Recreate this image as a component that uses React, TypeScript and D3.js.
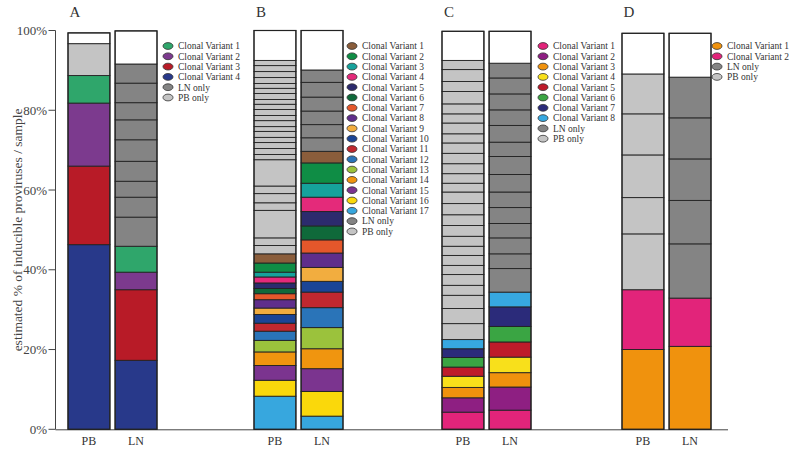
import React from "react";
import * as d3 from "d3";

// ---------- data ----------
const PANELS = ["A", "B", "C", "D"];
const SAMPLES = ["PB", "LN"];
const Y_TICKS = [0, 20, 40, 60, 80, 100];

const LN_ONLY_COLOR = "#848484";
const PB_ONLY_COLOR = "#c4c4c4";

// Panel A (variants listed CV1..CV4; stacked bottom-up in reverse order)
const A_VARIANT_COLORS = ["#2fa66b", "#7c3a8e", "#b81b27", "#28398a"];
const A_PB_VARIANTS = [6.9, 15.8, 19.7, 46.3];
const A_LN_VARIANTS = [6.5, 4.4, 17.7, 17.3];
const A_PB_ONLY = [8.0];
const A_LN_ONLY = [7.3, 5.0, 4.0, 5.0, 5.4, 5.0, 4.3, 4.9, 4.8];
const A_TOTALS = [99.4, 99.9];

// Panel B (CV1..CV17; stacked bottom-up in reverse order)
const B_VARIANT_COLORS = [
  "#8a5d3b", "#0f8d45", "#16a29c", "#e42a7a", "#2c2b6d", "#0f693a",
  "#e4572b", "#5f2e8b", "#f2ad3f", "#1b4596", "#c0282f", "#2a74b8",
  "#9bc23c", "#f0950f", "#7b348f", "#fad80b", "#37a7de",
];
const B_PB_VARIANTS = [2.3, 2.3, 1.2, 1.5, 1.4, 1.3, 1.5, 2.1, 1.6, 2.2, 2.0, 2.3, 2.9, 3.4, 3.7, 4.0, 8.3];
const B_LN_VARIANTS = [2.9, 5.1, 3.5, 3.6, 3.6, 3.5, 3.3, 3.6, 3.5, 2.7, 3.9, 5.0, 5.3, 5.0, 5.7, 6.2, 3.3];
const B_PB_ONLY = [
  2.1, 1.9, 6.9, 1.9, 2.3, 1.9, 6.6, 1.3, 1.5, 1.5, 1.3, 1.5, 1.2,
  1.5, 1.3, 1.5, 1.3, 1.2, 1.5, 1.3, 1.2, 1.5, 1.5, 1.5, 1.3,
];
const B_LN_ONLY = [3.4, 3.3, 3.4, 3.5, 3.7, 3.1];
const B_TOTALS = [100, 100];

// Panel C (CV1..CV8; stacked bottom-up in listed order)
const C_VARIANT_COLORS = ["#e2247a", "#8e1f82", "#f0920d", "#f8e01b", "#be1b2a", "#3aa543", "#2b2b7a", "#37a8e0"];
const C_PB_VARIANTS = [4.3, 3.6, 2.6, 2.8, 2.3, 2.4, 2.2, 2.3];
const C_LN_VARIANTS = [4.8, 5.8, 3.6, 3.9, 3.8, 3.9, 4.9, 3.7];
const C_PB_ONLY = [
  4.0, 3.8, 3.3, 2.5, 2.7, 2.3, 2.5, 2.3, 2.5, 2.7, 2.7, 2.8, 2.9,
  2.2, 2.4, 2.5, 2.6, 2.6, 2.3, 2.7, 2.3, 2.5, 3.1, 2.5, 3.0, 2.3,
];
const C_LN_ONLY = [5.9, 3.7, 4.0, 3.6, 4.0, 3.9, 4.4, 4.5, 3.6, 4.2, 3.9, 4.0, 4.0, 3.7];
const C_TOTALS = [99.8, 99.8];

// Panel D (CV1..CV2; stacked bottom-up in listed order)
const D_VARIANT_COLORS = ["#f0920d", "#e2247a"];
const D_PB_VARIANTS = [20.0, 15.0];
const D_LN_VARIANTS = [20.8, 12.1];
const D_PB_ONLY = [14.0, 9.1, 10.7, 10.3, 10.0];
const D_LN_ONLY = [13.6, 10.9, 10.4, 10.3, 10.2];
const D_TOTALS = [99.3, 99.3];

// ---------- layout ----------
const W = 795;
const H = 449;
const FONT = "'Liberation Serif', 'Times New Roman', serif";

type Seg = { y0: number; y1: number; color: string };

function buildStack(
  variants: number[],
  colors: string[],
  only: number[],
  onlyColor: string,
  total: number,
  reverse: boolean
): Seg[] {
  const idx = variants.map((_, i) => i);
  if (reverse) idx.reverse();
  const vals = [...idx.map((i) => variants[i]), ...only];
  const cols = [...idx.map((i) => colors[i]), ...only.map(() => onlyColor)];
  const ends = Array.from(d3.cumsum(vals));
  const segs: Seg[] = vals.map((v, i) => ({ y0: ends[i] - v, y1: ends[i], color: cols[i] }));
  const top = ends.length ? ends[ends.length - 1] : 0;
  if (total > top) segs.push({ y0: top, y1: total, color: "#ffffff" });
  return segs;
}

const panelDefs = [
  { id: "A", colors: A_VARIANT_COLORS, pb: A_PB_VARIANTS, ln: A_LN_VARIANTS, pbOnly: A_PB_ONLY, lnOnly: A_LN_ONLY, totals: A_TOTALS, reverse: true },
  { id: "B", colors: B_VARIANT_COLORS, pb: B_PB_VARIANTS, ln: B_LN_VARIANTS, pbOnly: B_PB_ONLY, lnOnly: B_LN_ONLY, totals: B_TOTALS, reverse: true },
  { id: "C", colors: C_VARIANT_COLORS, pb: C_PB_VARIANTS, ln: C_LN_VARIANTS, pbOnly: C_PB_ONLY, lnOnly: C_LN_ONLY, totals: C_TOTALS, reverse: false },
  { id: "D", colors: D_VARIANT_COLORS, pb: D_PB_VARIANTS, ln: D_LN_VARIANTS, pbOnly: D_PB_ONLY, lnOnly: D_LN_ONLY, totals: D_TOTALS, reverse: false },
];

export default function App() {
  const y = d3.scaleLinear().domain([0, 100]).range([429.3, 30.5]);
  const panelX = d3.scaleOrdinal<string, number>().domain(PANELS).range([68, 254, 442, 622]);
  const legendX = d3.scaleOrdinal<string, number>().domain(PANELS).range([168, 352, 543, 717]);
  const sampleX = d3.scaleBand<string>().domain(SAMPLES).range([0, 89]).paddingInner(0.11);
  const axisX = 55.5;
  const legendY0 = 46;
  const legendStep = 10.3;

  return (
    <svg width={W} height={H} style={{ display: "block", position: "absolute", left: 0, top: 0, background: "#fff" }}>
      <rect x={0} y={0} width={W} height={H} fill="#fff" />
      {/* y axis */}
      <line x1={axisX} x2={axisX} y1={y(100)} y2={y(0)} stroke="#444" strokeWidth={1} />
      <line x1={axisX} x2={728} y1={y(0) + 0.5} y2={y(0) + 0.5} stroke="#444" strokeWidth={1} />
      {Y_TICKS.map((t) => (
        <g key={t}>
          <line x1={axisX - 7} x2={axisX} y1={y(t)} y2={y(t)} stroke="#444" strokeWidth={1} />
          <text x={axisX - 8.5} y={y(t)} dy="0.35em" textAnchor="end" fontFamily={FONT} fontSize={13} fill="#444">
            {t + "%"}
          </text>
        </g>
      ))}
      <text
        transform={`translate(17,${(y(0) + y(100)) / 2}) rotate(-90)`}
        textAnchor="middle"
        dy="0.35em"
        fontFamily={FONT}
        fontSize={13.5}
        fill="#444"
      >
        estimated % of inducible proviruses / sample
      </text>

      {panelDefs.map((p) => {
        const px = panelX(p.id);
        const stacks = [
          buildStack(p.pb, p.colors, p.pbOnly, PB_ONLY_COLOR, p.totals[0], p.reverse),
          buildStack(p.ln, p.colors, p.lnOnly, LN_ONLY_COLOR, p.totals[1], p.reverse),
        ];
        const legendItems = [
          ...p.colors.map((c, i) => ({ label: `Clonal Variant ${i + 1}`, color: c })),
          { label: "LN only", color: LN_ONLY_COLOR },
          { label: "PB only", color: PB_ONLY_COLOR },
        ];
        const lx = legendX(p.id);
        return (
          <g key={p.id}>
            <text x={px + 7} y={12} dy="0.35em" textAnchor="middle" fontFamily={FONT} fontSize={15} fill="#333">
              {p.id}
            </text>
            {SAMPLES.map((s, si) => {
              const bx = px + (sampleX(s) as number);
              const bw = sampleX.bandwidth();
              const segs = stacks[si];
              const top = segs.length ? segs[segs.length - 1].y1 : 0;
              return (
                <g key={s}>
                  {segs.map((sg, k) => (
                    <rect
                      key={k}
                      x={bx}
                      y={y(sg.y1)}
                      width={bw}
                      height={y(sg.y0) - y(sg.y1)}
                      fill={sg.color}
                      stroke="#222"
                      strokeWidth={0.9}
                    />
                  ))}
                  <rect x={bx} y={y(top)} width={bw} height={y(0) - y(top)} fill="none" stroke="#222" strokeWidth={1.2} />
                  <text x={bx + bw / 2} y={441} dy="0.35em" textAnchor="middle" fontFamily={FONT} fontSize={12} fill="#333">
                    {s}
                  </text>
                </g>
              );
            })}
            {legendItems.map((it, i) => {
              const ly = legendY0 + i * legendStep;
              return (
                <g key={i}>
                  <ellipse cx={lx} cy={ly} rx={5} ry={3.4} fill={it.color} stroke="#333" strokeWidth={0.8} />
                  <text x={lx + 10} y={ly} dy="0.35em" fontFamily={FONT} fontSize={9.5} fill="#333">
                    {it.label}
                  </text>
                </g>
              );
            })}
          </g>
        );
      })}
    </svg>
  );
}
